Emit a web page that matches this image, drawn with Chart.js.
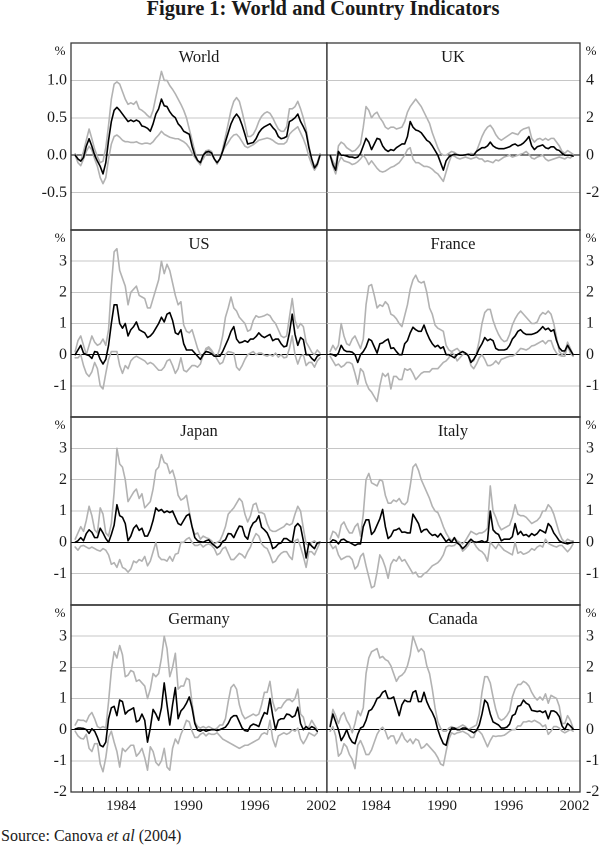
<!DOCTYPE html>
<html><head><meta charset="utf-8">
<script src="https://cdn.jsdelivr.net/npm/chart.js@4.4.0/dist/chart.umd.min.js"></script>
<style>
body{margin:0;background:#fff;}
#wrap{position:relative;width:600px;height:852px;overflow:hidden;background:#fff;font-family:"Liberation Serif","Times New Roman",serif;color:#1a1a1a}
#title{position:absolute;left:0;width:646px;top:-3px;text-align:center;font-weight:bold;font-size:20.5px;white-space:nowrap}
#src{position:absolute;left:1px;top:827px;font-size:16px;white-space:nowrap}
canvas{position:absolute}
</style></head><body>
<div id="wrap">
<div id="title">Figure 1: World and Country Indicators</div>
<div id="src">Source: Canova <i>et al</i> (2004)</div>
</div>
<script>
// ---- categories: quarters 1980Q2 .. 2002Q2 ----
const quarters = [];
for (let y = 1980; y <= 2002; y++) for (let q = 1; q <= 4; q++) {
  if ((y === 1980 && q < 2) || (y === 2002 && q > 2)) continue;
  quarters.push(y + 'Q' + q);
}
const yearLabels = ['1984', '1990', '1996', '2002'];

// ---- series (median, upper band, lower band), % ----
const worldMid = [0.0,-0.05,-0.08, -0.03,0.12,0.22,0.12, 0.0,-0.08,-0.15,-0.25, -0.1,0.2,0.45,0.6,
 0.64,0.6,0.55,0.5, 0.45,0.47,0.45,0.47, 0.45,0.39,0.38,0.36, 0.32,0.42,0.55,0.62, 0.75,0.66,0.65,0.58,
 0.53,0.5,0.42,0.38, 0.32,0.3,0.28,0.12, 0.0,-0.07,-0.1,0.0, 0.04,0.05,0.03,-0.05, -0.1,-0.05,0.05,0.18,
 0.3,0.42,0.5,0.55, 0.5,0.4,0.28,0.15, 0.16,0.17,0.22,0.3, 0.35,0.38,0.4,0.42, 0.37,0.33,0.25,0.22,
 0.23,0.25,0.45,0.47, 0.5,0.55,0.45,0.38, 0.3,0.1,-0.05,-0.17, -0.12,0.0];
const worldUp = [0.02,-0.05,-0.08, 0.05,0.2,0.35,0.22, 0.08,-0.02,-0.1,-0.08, 0.1,0.4,0.75,0.95,
 0.98,0.95,0.85,0.75, 0.68,0.7,0.68,0.72, 0.62,0.6,0.57,0.53, 0.5,0.6,0.78,0.95, 1.12,1.0,1.0,0.93,
 0.88,0.82,0.75,0.68, 0.6,0.5,0.35,0.2, 0.05,-0.08,-0.13,0.0, 0.06,0.07,0.05,-0.05, -0.12,-0.05,0.08,0.25,
 0.42,0.6,0.72,0.77, 0.72,0.58,0.42,0.25, 0.25,0.28,0.35,0.45, 0.52,0.56,0.58,0.56, 0.5,0.42,0.35,0.32,
 0.32,0.38,0.62,0.62, 0.65,0.72,0.62,0.5, 0.35,0.12,-0.05,-0.15, -0.1,0.02];
const worldLo = [0.0,-0.1,-0.14, -0.05,0.05,0.12,0.07, -0.05,-0.15,-0.3,-0.38, -0.3,-0.05,0.15,0.25,
 0.27,0.24,0.2,0.18, 0.18,0.17,0.17,0.18, 0.16,0.15,0.16,0.16, 0.15,0.18,0.23,0.27, 0.32,0.28,0.26,0.24,
 0.23,0.22,0.22,0.2, 0.18,0.15,0.1,0.03, -0.03,-0.08,-0.1,-0.05, 0.02,0.03,0.01,-0.05, -0.1,-0.05,0.05,0.12,
 0.17,0.23,0.27,0.28, 0.24,0.18,0.12,0.1, 0.12,0.14,0.17,0.2, 0.21,0.22,0.23,0.22, 0.2,0.17,0.15,0.15,
 0.15,0.18,0.28,0.32, 0.35,0.38,0.3,0.22, 0.12,-0.02,-0.12,-0.2, -0.14,0.0];

const ukMid = [0.0,-0.5,-0.8, 0.2,0.0,0.0,-0.05, -0.1,-0.1,-0.15,-0.1, 0.1,0.5,0.9,0.7,
 0.3,0.6,0.9,0.85, 0.5,0.3,0.2,0.3, 0.25,0.4,0.5,0.6, 0.6,1.0,1.8,1.5, 1.35,1.3,1.2,1.0,
 0.8,0.7,0.5,0.25, 0.0,-0.4,-0.8,-0.3, -0.1,0.0,0.05,0.02, 0.0,0.0,0.02,0.05, 0.0,0.0,0.2,0.3,
 0.4,0.4,0.5,0.7, 0.5,0.4,0.35,0.35, 0.35,0.4,0.45,0.55, 0.6,0.5,0.55,0.65, 0.8,1.0,0.5,0.3,
 0.45,0.5,0.55,0.4, 0.35,0.45,0.45,0.3, 0.25,0.1,0.0,0.0, 0.0,-0.05];
const ukUp = [0.0,-0.3,-0.6, 0.5,0.7,0.6,0.4, 0.3,0.2,0.25,0.4, 0.6,1.5,2.6,2.4,
 2.0,2.2,2.3,2.0, 1.8,1.5,1.4,1.5, 1.5,1.4,1.45,1.5, 1.8,2.3,2.6,2.8, 3.0,2.8,2.6,2.3,
 2.0,1.7,1.2,0.8, 0.4,0.1,0.0,0.0, 0.1,0.2,0.15,0.05, 0.0,0.0,0.0,0.05, 0.1,0.05,0.2,0.6,
 1.0,1.3,1.5,1.6, 1.4,1.1,0.9,0.8, 0.9,1.0,1.1,1.2, 1.15,1.1,1.3,1.4, 1.45,1.5,0.9,0.7,
 0.85,0.9,0.8,0.9, 0.8,0.9,0.9,0.7, 0.5,0.2,0.1,0.25, 0.15,0.05];
const ukLo = [0.0,-0.6,-1.0, -0.4,-0.1,-0.3,-0.35, -0.4,-0.5,-0.45,-0.35, -0.2,0.0,-0.2,-0.5,
 -0.3,-0.5,-0.7,-0.85, -0.9,-0.85,-0.75,-0.65, -0.6,-0.5,-0.4,-0.2, 0.0,0.3,0.4,-0.2, -0.4,-0.4,-0.5,-0.6,
 -0.6,-0.65,-0.75,-0.9, -1.0,-1.2,-1.4,-0.9, -0.4,0.0,-0.05,-0.15, -0.2,-0.15,-0.1,-0.15, -0.2,-0.15,-0.1,-0.2,
 -0.2,-0.35,-0.3,-0.35, -0.4,-0.25,-0.3,-0.2, -0.1,-0.05,0.0,-0.1, -0.05,0.0,0.05,0.1, 0.2,0.05,-0.15,-0.2,
 -0.1,-0.05,0.0,-0.2, -0.3,-0.25,-0.2,-0.15, -0.1,-0.15,-0.2,-0.1, -0.15,0.0];

const usMid = [0.0,0.15,0.3, 0.05,0.0,-0.03,-0.12, 0.1,0.08,-0.15,-0.3, -0.15,0.3,1.0,1.6,
 1.6,1.0,0.85,1.0, 0.6,0.8,0.9,1.05, 0.8,0.75,0.7,0.55, 0.6,0.7,0.85,1.0, 1.2,1.05,1.3,1.35,
 1.1,0.7,0.65,0.8, 0.35,0.15,0.15,0.15, 0.05,-0.05,-0.15,0.0, 0.1,0.08,0.03,-0.05, -0.05,-0.05,0.1,0.3,
 0.5,0.75,0.9,0.5, 0.38,0.4,0.45,0.4, 0.5,0.5,0.58,0.7, 0.6,0.55,0.6,0.65, 0.45,0.5,0.5,0.35,
 0.25,0.28,0.7,1.3, 0.65,0.3,0.55,0.48, 0.0,0.0,-0.12,-0.2, -0.05,0.0];
const usUp = [0.1,0.45,0.6, 0.3,0.0,0.3,0.6, 0.4,0.3,0.35,0.5, 0.3,0.8,2.2,3.3,
 3.4,2.7,2.45,2.2, 1.6,2.0,2.1,2.2, 1.9,1.85,1.8,1.5, 1.5,1.8,2.1,2.4, 3.0,2.6,2.9,2.7,
 2.3,1.9,1.6,1.7, 0.95,0.75,0.7,0.8, 0.5,0.2,0.0,-0.05, 0.2,0.25,0.15,0.0, -0.05,0.2,0.6,1.2,
 1.5,1.85,1.5,1.4, 1.2,1.1,1.0,0.75, 0.8,1.1,1.25,1.2, 1.22,1.25,1.3,1.25, 1.1,1.0,0.8,0.6,
 0.55,0.6,1.2,1.8, 1.1,0.85,1.0,0.9, 0.4,0.25,0.08,0.0, 0.15,0.05];
const usLo = [-0.1,-0.1,0.0, -0.35,-0.6,-0.7,-0.55, -0.25,-0.45,-1.0,-1.1, -0.6,-0.15,0.1,0.1,
 0.1,-0.35,-0.6,-0.35, -0.45,-0.2,-0.1,-0.05, -0.1,-0.15,-0.2,-0.3, -0.25,-0.3,-0.4,-0.5, -0.5,-0.4,-0.2,-0.15,
 -0.35,-0.6,-0.45,-0.1, -0.5,-0.55,-0.45,-0.35, -0.35,-0.4,-0.3,0.0, 0.15,0.2,0.1,0.0, -0.15,-0.3,-0.25,0.0,
 0.1,0.08,0.05,-0.4, -0.5,-0.35,-0.15,0.0, 0.05,0.1,0.0,0.05, 0.05,-0.02,-0.05,0.0, -0.05,0.05,-0.08,0.0,
 -0.1,-0.08,0.2,0.6, 0.0,-0.3,-0.05,0.0, -0.35,-0.25,-0.25,-0.4, -0.2,-0.1];

const frMid = [0.02,0.0,-0.05, 0.05,0.3,0.15,0.1, 0.1,0.08,0.0,-0.25, 0.0,0.1,0.25,0.5,
 0.45,0.25,0.05,0.35, 0.38,0.45,0.5,0.2, 0.22,0.1,0.0,0.0, 0.35,0.45,0.7,0.88, 0.8,0.75,0.75,0.95,
 0.7,0.5,0.35,0.25, 0.3,0.2,0.25,0.0, 0.0,-0.05,-0.1,0.0, 0.05,0.1,0.05,-0.03, -0.25,-0.15,0.0,0.2,
 0.35,0.55,0.45,0.5, 0.45,0.2,0.15,0.15, 0.15,0.18,0.3,0.5, 0.6,0.75,0.8,0.7, 0.65,0.65,0.65,0.68,
 0.72,0.8,0.9,0.8, 0.85,0.75,0.8,0.45, 0.22,0.12,0.12,0.3, 0.15,0.0];
const frUp = [0.1,0.3,0.15, 0.3,1.0,0.6,0.35, 0.3,0.5,0.6,0.4, 0.2,0.5,1.6,2.2,
 2.25,1.9,1.5,1.6, 1.55,1.7,1.6,1.3, 1.25,1.15,1.0,0.9, 1.25,1.6,2.1,2.4, 2.55,2.35,2.3,2.35,
 2.0,1.5,1.3,0.95, 0.85,0.8,0.75,0.3, 0.15,0.1,0.15,0.2, 0.1,0.1,0.05,0.0, -0.2,-0.2,0.05,0.45,
 1.0,1.35,1.45,1.45, 1.1,0.85,0.65,0.5, 0.42,0.45,0.65,0.95, 1.15,1.3,1.4,1.3, 1.2,1.1,1.0,1.0,
 1.05,1.25,1.35,1.3, 1.4,1.3,1.0,0.55, 0.1,0.0,0.08,0.4, 0.2,0.0];
const frLo = [-0.05,-0.2,-0.35, -0.3,-0.4,-0.35,-0.25, -0.25,-0.3,-0.6,-0.95, -0.45,-0.55,-0.9,-1.1,
 -1.2,-1.35,-1.5,-1.0, -0.6,-0.7,-0.6,-1.1, -0.7,-0.7,-0.8,-0.8, -0.45,-0.5,-0.45,-0.6, -0.8,-0.7,-0.6,-0.55,
 -0.55,-0.55,-0.45,-0.45, -0.45,-0.35,-0.25,-0.2, -0.1,0.08,0.0,-0.2, -0.1,0.0,0.05,0.0, -0.35,-0.45,-0.3,-0.1,
 0.0,-0.15,-0.35,-0.35, -0.3,-0.2,-0.3,-0.15, -0.12,-0.08,-0.05,-0.05, 0.0,0.1,0.2,0.18, 0.15,0.2,0.28,0.3,
 0.35,0.4,0.45,0.35, 0.45,0.45,0.2,0.05, -0.02,-0.05,-0.05,0.3, 0.05,-0.05];

const jpMid = [0.0,0.05,0.15, 0.05,0.28,0.4,0.32, 0.15,0.15,0.45,0.3, 0.12,0.0,0.25,0.55,
 1.2,0.85,0.8,0.6, 0.05,0.2,0.45,0.55, 0.38,0.45,0.2,0.2, 0.4,0.7,1.1,1.0, 1.05,0.95,1.0,0.95,
 1.0,0.8,0.6,0.55, 0.7,0.85,0.9,0.5, 0.15,0.05,0.02,0.0, 0.05,0.08,-0.03,-0.1, -0.18,-0.12,0.03,0.08,
 0.28,0.27,0.15,0.35, 0.52,0.5,0.2,0.1, 0.45,0.62,0.68,0.85, 0.48,0.4,0.3,0.1, -0.2,-0.15,-0.05,-0.02,
 0.12,0.12,0.05,0.0, 0.5,0.6,0.5,0.05, -0.5,-0.02,-0.12,-0.2, -0.02,0.0];
const jpUp = [0.1,0.3,0.5, 0.35,0.7,1.15,0.85, 0.4,0.3,1.1,0.9, 0.3,0.2,0.6,1.6,
 3.0,2.5,2.4,2.0, 1.3,1.45,1.6,1.7, 1.4,1.55,1.1,1.2, 1.3,1.7,2.3,2.4, 2.8,2.55,2.5,2.2,
 2.3,2.0,1.5,1.35, 1.4,1.5,1.0,0.5, 0.25,0.3,0.1,0.2, 0.15,0.12,0.05,-0.05, 0.0,0.05,0.25,0.5,
 0.9,1.0,1.1,1.25, 1.4,1.3,0.9,0.65, 0.85,1.2,1.25,0.95, 0.95,0.9,0.6,0.4, 0.35,0.35,0.4,0.45,
 0.5,0.6,0.55,0.6, 0.9,1.15,1.0,0.45, -0.05,-0.1,0.0,0.05, -0.05,0.0];
const jpLo = [-0.15,-0.25,-0.12, -0.1,-0.15,-0.2,-0.15, -0.2,-0.25,-0.28,-0.2, -0.25,-0.4,-0.7,-0.65,
 -0.8,-0.55,-0.8,-0.85, -0.95,-0.85,-0.6,-0.65, -0.55,-0.6,-0.45,-0.75, -0.6,-0.3,0.0,-0.45, -0.55,-0.55,-0.6,-0.45,
 -0.6,-0.38,-0.35,0.0, 0.0,0.1,0.15,0.0, -0.1,-0.1,-0.05,-0.15, -0.08,-0.05,-0.1,-0.2, -0.4,-0.35,-0.2,-0.15,
 -0.35,-0.55,-0.55,-0.45, -0.35,-0.4,-0.5,-0.3, -0.15,0.1,0.28,0.2, -0.05,-0.15,-0.2,-0.4, -0.65,-0.6,-0.45,-0.35,
 -0.3,-0.3,-0.45,-0.55, 0.05,0.1,-0.15,-0.45, -0.8,-0.3,-0.3,-0.4, -0.2,0.0];

const itMid = [0.0,0.08,0.05, -0.05,0.08,0.1,0.03, 0.0,-0.05,-0.1,-0.05, -0.05,0.5,0.72,0.72,
 0.25,0.35,0.55,0.75, 1.05,0.5,0.12,0.2, 0.38,0.4,0.45,0.32, 0.33,0.3,0.3,0.9, 0.75,0.6,0.32,0.4,
 0.42,0.3,0.22,0.25, 0.17,0.28,0.15,0.02, 0.1,0.0,0.15,-0.02, -0.08,-0.2,-0.12,0.0, 0.1,0.02,0.0,0.02,
 0.05,0.0,0.05,1.0, 0.4,0.3,0.25,0.05, 0.1,0.1,0.1,0.18, 0.6,0.25,0.35,0.22, 0.25,0.18,0.28,0.22,
 0.28,0.4,0.35,0.3, 0.6,0.5,0.3,0.18, 0.05,0.0,-0.03,-0.05, -0.02,0.0];
const itUp = [0.1,0.35,0.3, 0.15,0.55,0.65,0.45, 0.3,0.3,0.5,0.6, 0.2,0.9,2.0,2.2,
 1.9,1.85,1.8,2.0, 1.95,1.5,1.25,1.25, 1.35,1.3,1.4,1.25, 1.2,1.3,1.8,2.4, 2.5,2.3,2.0,1.8,
 1.6,1.4,1.15,1.0, 0.95,0.75,0.5,0.3, 0.15,0.05,0.15,0.05, 0.0,-0.05,0.05,0.2, 0.35,0.3,0.25,0.3,
 0.3,0.35,0.45,1.8, 1.0,0.8,0.55,0.4, 0.45,0.5,0.55,0.8, 1.2,0.9,0.85,0.85, 0.8,0.7,0.6,0.65,
 0.7,0.8,1.0,1.0, 1.2,1.1,0.9,0.6, 0.3,0.1,0.0,0.1, 0.05,0.05];
const itLo = [-0.05,-0.2,-0.12, -0.4,-0.55,-0.5,-0.45, -0.45,-0.55,-0.85,-0.75, -0.45,-0.35,-0.75,-1.1,
 -1.45,-1.4,-0.95,-0.4, -0.55,-0.8,-1.15,-0.7, -0.55,-0.6,-0.45,-0.6, -0.55,-0.7,-0.85,-1.0, -0.95,-1.1,-1.1,-1.0,
 -0.95,-0.85,-0.75,-0.7, -0.65,-0.55,-0.4,-0.15, -0.1,-0.12,-0.1,0.0, -0.1,-0.28,-0.2,-0.1, 0.05,0.0,-0.15,-0.25,
 -0.3,-0.4,-0.6,0.0, -0.1,-0.2,-0.05,-0.15, -0.25,-0.3,-0.35,-0.4, 0.0,-0.35,-0.3,-0.38, -0.35,-0.3,-0.2,-0.25,
 -0.15,-0.1,-0.15,0.1, -0.03,-0.08,-0.12,-0.15, -0.1,-0.1,-0.2,-0.3, -0.2,-0.05];

const deMid = [0.02,0.05,0.05, 0.04,0.0,-0.12,0.03, -0.05,-0.25,-0.5,-0.55, -0.4,0.35,0.7,0.75,
 0.45,0.95,0.9,0.5, 0.6,0.65,0.7,0.25, 0.3,0.5,0.3,-0.4, 0.05,0.65,0.5,0.3, 0.7,1.5,0.8,0.15,
 0.8,1.35,0.35,0.6, 0.7,0.85,1.05,0.7, 0.2,-0.02,-0.05,0.0, -0.05,-0.02,0.0,0.0, -0.03,0.0,0.04,0.08,
 0.2,0.38,0.45,0.45, 0.25,0.05,-0.03,-0.05, 0.12,0.18,0.15,0.1, 0.35,0.55,0.5,1.0, 0.45,0.0,0.3,0.35,
 0.35,0.5,0.48,0.4, 0.45,0.72,0.2,0.0, 0.1,0.02,0.1,0.05, -0.05,null];
const deUp = [0.15,0.32,0.3, 0.3,0.25,0.45,0.55, 0.35,0.1,0.05,0.1, 0.05,0.9,1.9,2.5,
 2.3,2.7,2.4,1.7, 1.75,1.9,1.85,1.55, 1.6,1.5,1.4,1.0, 1.3,1.8,1.7,1.8, 2.3,3.0,2.6,1.7,
 2.0,2.45,1.3,1.4, 1.4,1.65,1.6,0.85, 0.25,0.1,0.05,0.1, 0.05,0.1,0.05,0.0, 0.05,0.15,0.15,0.35,
 0.9,1.35,1.45,1.3, 0.8,0.5,0.35,0.4, 0.45,0.5,0.45,0.5, 0.8,1.2,1.2,1.55, 0.9,0.6,0.7,0.7,
 0.85,0.95,0.98,0.9, 1.0,1.3,0.5,0.4, 0.05,0.1,0.3,0.15, 0.0,null];
const deLo = [-0.05,-0.2,-0.28, -0.3,-0.15,-0.6,-0.7, -0.45,-0.45,-1.1,-1.35, -0.9,-0.25,-0.05,-0.4,
 -0.7,-1.2,-0.6,-0.7, -0.6,-0.5,-0.5,-0.85, -0.75,-0.6,-0.9,-1.3, -0.55,-0.7,-1.05,-1.15, -1.0,-0.6,-1.2,-1.3,
 -0.6,-0.3,-0.45,-0.15, 0.05,0.3,0.25,-0.05, -0.25,-0.25,-0.15,-0.1, -0.2,-0.12,-0.15,-0.15, -0.1,-0.2,-0.3,-0.35,
 -0.4,-0.45,-0.5,-0.55, -0.6,-0.55,-0.5,-0.5, -0.45,-0.4,-0.35,-0.3, -0.15,-0.1,-0.15,0.3, -0.3,-0.55,-0.2,-0.15,
 -0.1,-0.15,-0.1,0.0, -0.05,0.05,-0.3,-0.45, -0.3,-0.1,-0.15,-0.2, -0.1,null];

const caMid = [0.1,0.5,0.25, 0.0,-0.35,-0.2,0.0, -0.25,-0.4,-0.45,-0.15, 0.05,0.1,0.3,0.6,
 0.65,0.8,1.0,1.05, 1.2,1.25,1.0,1.0, 1.05,0.75,0.45,0.8, 0.95,0.9,0.9,1.2, 1.25,0.9,0.9,1.2,
 0.9,0.7,0.55,0.35, 0.0,-0.25,-0.45,-0.5, -0.15,0.05,0.05,0.0, 0.0,0.05,0.05,0.0, -0.05,-0.1,-0.03,0.15,
 0.5,0.95,0.85,0.5, 0.25,0.2,0.15,0.05, 0.05,0.08,0.18,0.45, 0.5,0.75,0.78,0.95, 0.85,0.8,0.62,0.6,
 0.58,0.6,0.55,0.6, 0.35,0.6,0.6,0.55, 0.42,0.12,0.0,0.2, 0.12,0.02];
const caUp = [0.15,0.65,0.45, 0.2,0.45,0.55,0.3, 0.15,-0.1,0.2,0.6, 0.45,0.7,1.8,2.3,
 2.5,2.55,2.6,2.3, 2.35,2.25,2.2,2.05, 1.8,1.55,1.7,1.75, 1.85,2.05,2.4,3.0, 2.75,2.5,2.6,2.5,
 2.05,1.8,1.3,0.7, 0.25,0.05,-0.05,-0.05, 0.05,0.1,0.05,0.05, 0.1,0.15,0.1,0.0, 0.05,0.1,0.15,0.5,
 1.2,1.7,1.7,1.5, 1.05,0.65,0.38,0.3, 0.35,0.45,0.6,1.05, 1.3,1.45,1.45,1.55, 1.5,1.4,1.2,1.05,
 0.95,1.05,0.95,1.15, 0.85,1.1,1.05,1.0, 0.75,0.2,0.2,0.45, 0.3,0.05];
const caLo = [-0.05,0.1,-0.2, -0.85,-0.75,-0.45,-0.55, -0.8,-0.95,-1.25,-0.5, -0.35,-0.55,-0.8,-0.8,
 -0.65,-0.4,-0.15,0.0, 0.08,-0.05,-0.3,-0.2, -0.2,-0.45,-0.3,-0.1, -0.3,-0.4,-0.3,-0.45, -0.3,-0.35,-0.6,-0.55,
 -0.45,-0.55,-0.65,-0.75, -0.9,-1.1,-1.15,-0.7, -0.3,-0.1,-0.15,-0.1, -0.08,-0.05,-0.1,-0.15, -0.25,-0.25,0.0,-0.05,
 -0.15,-0.35,-0.55,-0.35, -0.2,-0.22,-0.2,-0.2, -0.18,-0.12,-0.05,0.0, 0.0,0.12,0.12,0.25, 0.25,0.28,0.25,0.3,
 0.25,0.2,0.1,0.15, -0.15,-0.05,0.1,0.1, 0.05,-0.05,-0.1,-0.05, 0.0,-0.05];

// ---- panels ----
const panels = [
  {name:'World',   side:'L', row:0, min:-1, max:1.5, step:0.5, dec:1, mid:worldMid, up:worldUp, lo:worldLo},
  {name:'UK',      side:'R', row:0, min:-4, max:6,   step:2,   dec:0, mid:ukMid,    up:ukUp,    lo:ukLo},
  {name:'US',      side:'L', row:1, min:-2, max:4,   step:1,   dec:0, mid:usMid,    up:usUp,    lo:usLo},
  {name:'France',  side:'R', row:1, min:-2, max:4,   step:1,   dec:0, mid:frMid,    up:frUp,    lo:frLo},
  {name:'Japan',   side:'L', row:2, min:-2, max:4,   step:1,   dec:0, mid:jpMid,    up:jpUp,    lo:jpLo},
  {name:'Italy',   side:'R', row:2, min:-2, max:4,   step:1,   dec:0, mid:itMid,    up:itUp,    lo:itLo},
  {name:'Germany', side:'L', row:3, min:-2, max:4,   step:1,   dec:0, mid:deMid,    up:deUp,    lo:deLo},
  {name:'Canada',  side:'R', row:3, min:-2, max:4,   step:1,   dec:0, mid:caMid,    up:caUp,    lo:caLo}
];

const rowTops = [43, 230, 417, 605, 792];
const FONT = '"Liberation Serif","Times New Roman",serif';
const TXT = '#1a1a1a';
const GREY = '#b2b2b2';
Chart.defaults.font.family = FONT;
Chart.defaults.color = TXT;

const quarterX = quarters.map(s => Number(s.slice(0,4)) + (Number(s.slice(5)) - 0.5) / 4);
const yearTickVals = [];
for (let y = 1981; y <= 2002; y++) yearTickVals.push(y);

const panelPlugin = {
  id: 'panelDeco',
  afterDraw(chart, args, o) {
    const {ctx, chartArea: a} = chart;
    ctx.save();
    if (o.bottom) {
      const xs = chart.scales.x;
      ctx.strokeStyle = '#222'; ctx.lineWidth = 1;
      ctx.beginPath();
      yearTickVals.forEach(v => {
        const x = Math.round(xs.getPixelForValue(v)) + 0.5;
        ctx.moveTo(x, a.bottom); ctx.lineTo(x, a.bottom - 5);
      });
      ctx.stroke();
    }
    ctx.strokeStyle = '#3a3a3a'; ctx.lineWidth = 1.3;
    ctx.strokeRect(a.left, a.top, a.right - a.left, a.bottom - a.top);
    ctx.fillStyle = TXT;
    ctx.textAlign = 'center'; ctx.textBaseline = 'middle';
    ctx.font = '16.5px ' + FONT;
    ctx.fillText(o.title, (a.left + a.right) / 2, a.top + 14.5);
    ctx.font = '13px ' + FONT;
    ctx.fillText('%', o.side === 'L' ? a.left - 11 : a.right + 11, a.top + 8.5);
    ctx.restore();
  }
};

const wrap = document.getElementById('wrap');
panels.forEach(p => {
  const bottom = p.row === 3;
  const top = rowTops[p.row], h = rowTops[p.row + 1] - top;
  const cv = document.createElement('canvas');
  const left = p.side === 'L' ? 0 : 326;
  const w = p.side === 'L' ? 360 : 274;
  const ch = h + 10 + (bottom ? 32 : 10);
  cv.width = w; cv.height = ch;
  cv.style.left = left + 'px'; cv.style.top = (top - 10) + 'px';
  cv.style.width = w + 'px'; cv.style.height = ch + 'px';
  wrap.appendChild(cv);

  const tickVals = [];
  for (let v = p.min; v <= p.max + 1e-9; v += p.step) tickVals.push(Math.round(v * 100) / 100);

  const mk = arr => quarterX.map((x, i) => ({x, y: arr[i]}));

  new Chart(cv, {
    type: 'line',
    data: {
      datasets: [
        {data: mk(p.mid), borderColor: '#000', borderWidth: 1.6},
        {data: mk(p.up),  borderColor: GREY, borderWidth: 1.6},
        {data: mk(p.lo),  borderColor: GREY, borderWidth: 1.6}
      ]
    },
    options: {
      responsive: false, animation: false, devicePixelRatio: 2,
      parsing: false, normalized: true,
      elements: {point: {radius: 0}, line: {tension: 0, borderCapStyle: 'round', borderJoinStyle: 'round'}},
      layout: {padding: {top: 10, bottom: bottom ? 0 : 10, left: 0, right: p.side === 'L' ? 33 : 0}},
      plugins: {legend: {display: false}, tooltip: {enabled: false},
        panelDeco: {title: p.name, side: p.side, bottom}},
      scales: {
        x: {
          type: 'linear', min: 1980, max: 2003,
          display: bottom,
          grid: {display: false, drawTicks: false},
          border: {display: false},
          afterBuildTicks: s => { s.ticks = yearLabels.map(l => ({value: Number(l) + 0.5})); },
          afterFit: s => { if (bottom) s.height = 32; s.paddingLeft = 0; s.paddingRight = 0; },
          ticks: {autoSkip: false, maxRotation: 0, padding: 5, color: TXT,
            font: {size: 15, family: FONT},
            callback: v => String(Math.floor(v))}
        },
        y: {
          type: 'linear', min: p.min, max: p.max,
          position: p.side === 'L' ? 'left' : 'right',
          grid: {drawTicks: false, lineWidth: 1,
            color: c => (c.tick && c.tick.value === 0) ? '#000' : '#c6c6c6'},
          border: {display: false},
          afterBuildTicks: s => { s.ticks = tickVals.map(v => ({value: v})); },
          afterFit: s => { s.width = p.side === 'L' ? 71 : 20; s.paddingTop = 0; s.paddingBottom = 0; },
          ticks: {autoSkip: false, padding: p.side === 'L' ? 4 : 6, color: TXT,
            font: {size: 16, family: FONT},
            callback: v => {
              if (Math.abs(v - p.max) < 1e-9) return '';
              if (Math.abs(v - p.min) < 1e-9 && !bottom) return '';
              return v.toFixed(p.dec);
            }}
        }
      }
    },
    plugins: [panelPlugin]
  });
});
</script>
</body></html>
